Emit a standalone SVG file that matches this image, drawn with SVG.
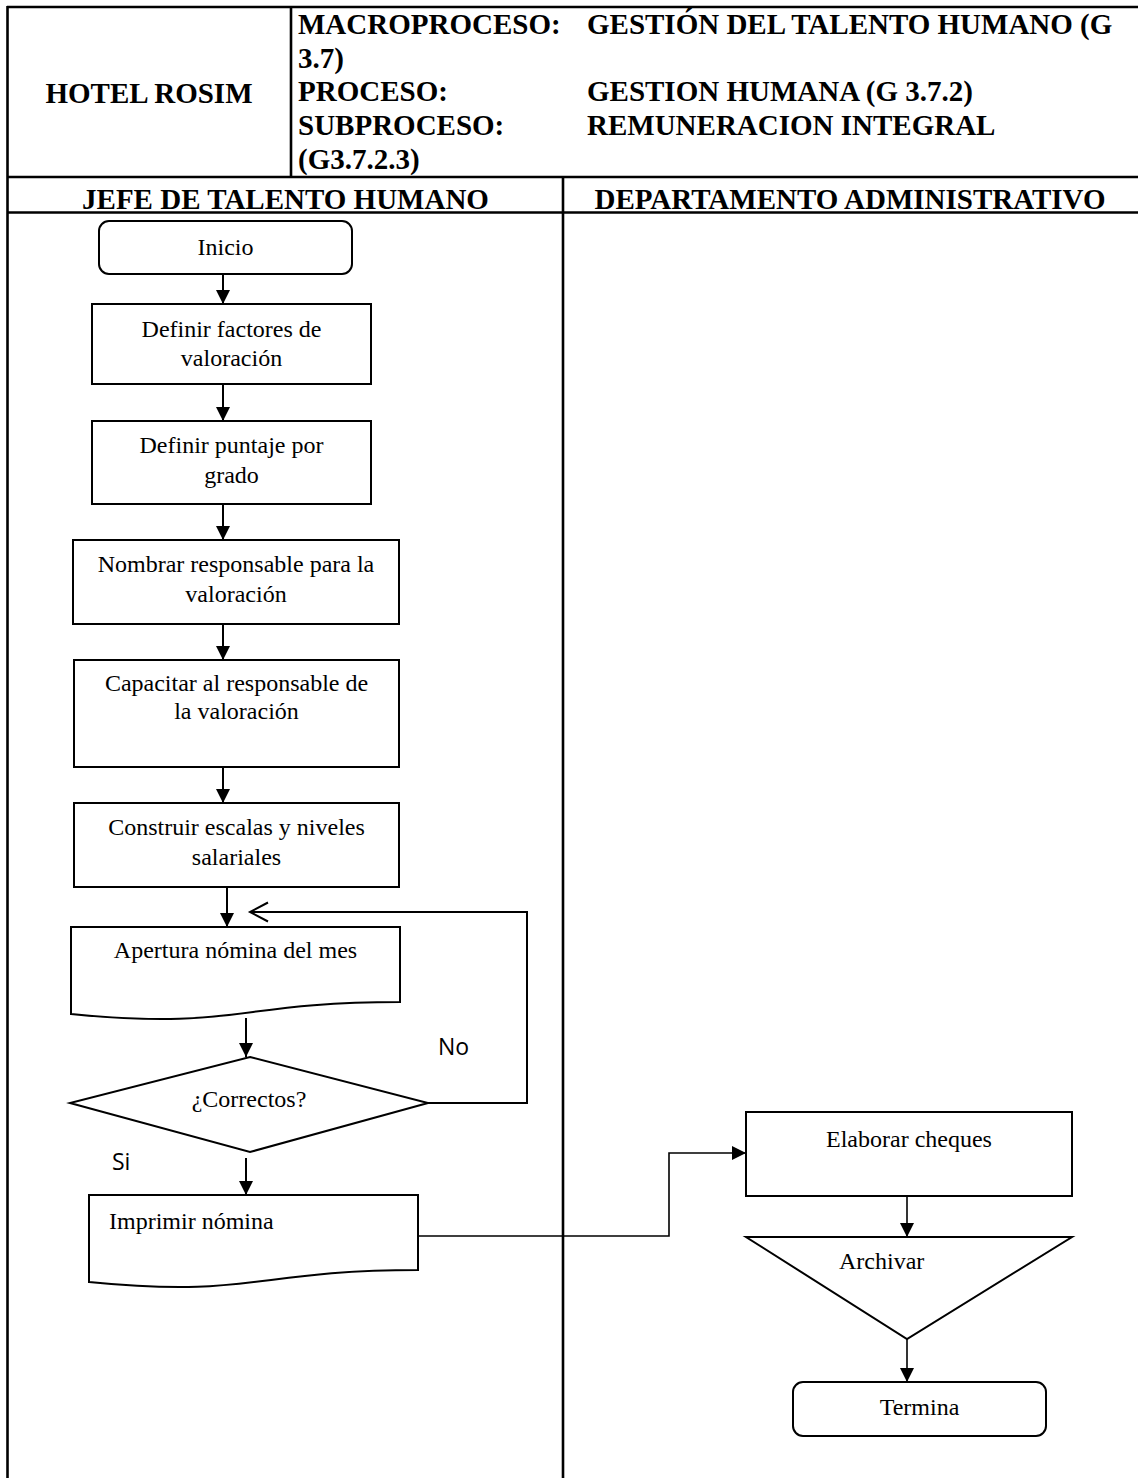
<svg xmlns="http://www.w3.org/2000/svg" width="1138" height="1478" viewBox="0 0 1138 1478">
  <defs>
    <style>
      .grid { stroke: #000; stroke-width: 2.6; fill: none; }
      .hdr { font-family: "Liberation Serif", "Times New Roman", serif; font-weight: bold; font-size: 29px; fill: #000; }
      .box { fill: #fff; stroke: #000; stroke-width: 2; }
      .lbl { font-family: "Liberation Serif", "Times New Roman", serif; font-size: 24px; fill: #000; }
      .tag { font-family: "Open Sans", "Liberation Sans", Arial, sans-serif; font-size: 23px; fill: #000; }
      .flow { fill: none; stroke: #000; stroke-width: 2; }
      .thin { fill: none; stroke: #000; stroke-width: 1.6; }
    </style>
    <marker id="arrow" markerUnits="userSpaceOnUse" markerWidth="16" markerHeight="16" refX="14" refY="7" orient="auto" overflow="visible">
      <path d="M0,0 L14,7 L0,14 Z" fill="#000"/>
    </marker>
    <marker id="openArrow" markerUnits="userSpaceOnUse" markerWidth="22" markerHeight="22" refX="18" refY="9.5" orient="auto" overflow="visible">
      <path d="M0,0 L18,9.5 L0,19" fill="none" stroke="#000" stroke-width="2"/>
    </marker>
  </defs>

  <rect width="1138" height="1478" fill="#fff"/>

  <!-- Header table and swimlanes -->
  <g id="table">
    <line class="grid" x1="7" y1="7" x2="1138" y2="7"/>
    <line class="grid" x1="7.5" y1="6" x2="7.5" y2="1478"/>
    <line class="grid" x1="291" y1="7" x2="291" y2="177"/>
    <line class="grid" x1="7" y1="177" x2="1138" y2="177"/>
    <line class="grid" x1="7" y1="212.5" x2="1138" y2="212.5"/>
    <line class="grid" x1="563" y1="177" x2="563" y2="1478"/>

    <text class="hdr" x="149" y="103" text-anchor="middle">HOTEL ROSIM</text>

    <text class="hdr" x="298" y="33.5">MACROPROCESO:</text>
    <text class="hdr" x="587" y="33.5">GESTIÓN DEL TALENTO HUMANO (G</text>
    <text class="hdr" x="298" y="67.5">3.7)</text>
    <text class="hdr" x="298" y="101">PROCESO:</text>
    <text class="hdr" x="587" y="101">GESTION HUMANA (G 3.7.2)</text>
    <text class="hdr" x="298" y="134.5">SUBPROCESO:</text>
    <text class="hdr" x="587" y="134.5">REMUNERACION INTEGRAL</text>
    <text class="hdr" x="298" y="168.5">(G3.7.2.3)</text>

    <text class="hdr" x="285.5" y="208.5" text-anchor="middle">JEFE DE TALENTO HUMANO</text>
    <text class="hdr" x="850" y="208.5" text-anchor="middle">DEPARTAMENTO ADMINISTRATIVO</text>
  </g>

  <!-- Connectors -->
  <g id="connectors">
    <line class="flow" x1="223" y1="274" x2="223" y2="304" marker-end="url(#arrow)"/>
    <line class="flow" x1="223" y1="384" x2="223" y2="421" marker-end="url(#arrow)"/>
    <line class="flow" x1="223" y1="504" x2="223" y2="540" marker-end="url(#arrow)"/>
    <line class="flow" x1="223" y1="624" x2="223" y2="660" marker-end="url(#arrow)"/>
    <line class="flow" x1="223" y1="767" x2="223" y2="803" marker-end="url(#arrow)"/>
    <line class="flow" x1="227" y1="887" x2="227" y2="927" marker-end="url(#arrow)"/>
    <line class="flow" x1="246" y1="1018" x2="246" y2="1057" marker-end="url(#arrow)"/>
    <line class="flow" x1="246" y1="1158" x2="246" y2="1195" marker-end="url(#arrow)"/>
    <!-- "No" branch loops back above the payroll document -->
    <polyline class="flow" points="428,1103 527,1103 527,912 250,912" marker-end="url(#openArrow)"/>
    <!-- Printed payroll goes to the administrative department -->
    <polyline class="thin" points="418,1236 669,1236 669,1153 746,1153" marker-end="url(#arrow)"/>
    <line class="thin" x1="907" y1="1197" x2="907" y2="1237" marker-end="url(#arrow)"/>
    <line class="thin" x1="907" y1="1339" x2="907" y2="1382" marker-end="url(#arrow)"/>

    <text class="tag" x="438" y="1055">No</text>
    <text class="tag" x="112" y="1170">Si</text>
  </g>

  <!-- Nodes -->
  <g id="inicio">
    <rect class="box" x="99" y="221" width="253" height="53" rx="10"/>
    <text class="lbl" x="225.5" y="255" text-anchor="middle">Inicio</text>
  </g>

  <g id="definir-factores">
    <rect class="box" x="92" y="304" width="279" height="80"/>
    <text class="lbl" x="231.5" y="337" text-anchor="middle">Definir factores de</text>
    <text class="lbl" x="231.5" y="366" text-anchor="middle">valoración</text>
  </g>

  <g id="definir-puntaje">
    <rect class="box" x="92" y="421" width="279" height="83"/>
    <text class="lbl" x="231.5" y="453" text-anchor="middle">Definir puntaje por</text>
    <text class="lbl" x="231.5" y="483" text-anchor="middle">grado</text>
  </g>

  <g id="nombrar-responsable">
    <rect class="box" x="73" y="540" width="326" height="84"/>
    <text class="lbl" x="236" y="572" text-anchor="middle">Nombrar responsable para la</text>
    <text class="lbl" x="236" y="602" text-anchor="middle">valoración</text>
  </g>

  <g id="capacitar">
    <rect class="box" x="74" y="660" width="325" height="107"/>
    <text class="lbl" x="236.5" y="691" text-anchor="middle">Capacitar al responsable de</text>
    <text class="lbl" x="236.5" y="719" text-anchor="middle">la valoración</text>
  </g>

  <g id="construir-escalas">
    <rect class="box" x="74" y="803" width="325" height="84"/>
    <text class="lbl" x="236.5" y="835" text-anchor="middle">Construir escalas y niveles</text>
    <text class="lbl" x="236.5" y="865" text-anchor="middle">salariales</text>
  </g>

  <g id="apertura-nomina">
    <path class="box" d="M71,927 H400 V1002 C235.5,1002 235.5,1030.5 71,1014 Z"/>
    <text class="lbl" x="235.5" y="958" text-anchor="middle">Apertura nómina del mes</text>
  </g>

  <g id="correctos">
    <polygon class="box" points="250,1057 428,1103 250,1152 70,1103"/>
    <text class="lbl" x="249" y="1107" text-anchor="middle">¿Correctos?</text>
  </g>

  <g id="imprimir-nomina">
    <path class="box" d="M89,1195 H418 V1270 C253.5,1270 253.5,1298.5 89,1282 Z"/>
    <text class="lbl" x="109" y="1229">Imprimir nómina</text>
  </g>

  <g id="elaborar-cheques">
    <rect class="box" x="746" y="1112" width="326" height="84"/>
    <text class="lbl" x="909" y="1147" text-anchor="middle">Elaborar cheques</text>
  </g>

  <g id="archivar">
    <polygon class="box" points="746,1237 1072,1237 907,1339"/>
    <text class="lbl" x="839" y="1269">Archivar</text>
  </g>

  <g id="termina">
    <rect class="box" x="793" y="1382" width="253" height="54" rx="10"/>
    <text class="lbl" x="919.5" y="1415" text-anchor="middle">Termina</text>
  </g>
</svg>
